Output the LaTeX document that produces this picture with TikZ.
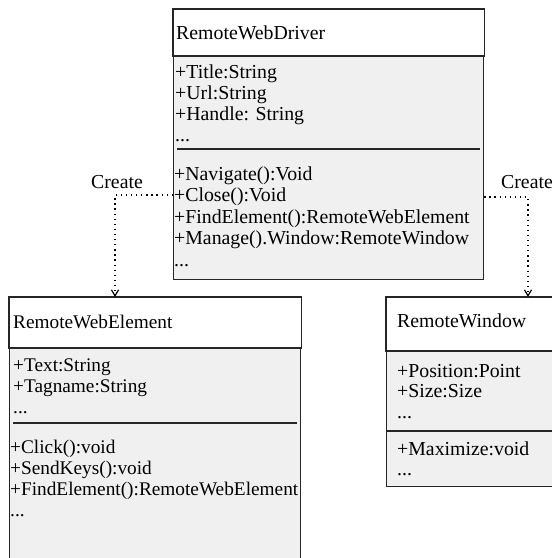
\documentclass[tikz,border=0pt]{standalone}
\usepackage{fontspec}
\setmainfont{Liberation Serif}
\usepackage{xcolor}
\usetikzlibrary{arrows.meta, calc, positioning}
\definecolor{bodygray}{RGB}{240,240,240}
\newcommand{\moredots}{...}

\begin{document}
\begin{tikzpicture}[x=1pt, y=-1pt, >={Straight Barb[length=6pt,width=7pt]},
    classbox/.style={draw=black!85, line width=1.2pt, fill=bodygray, rectangle, inner sep=0pt, anchor=north west},
    headbox/.style={draw=black!85, line width=1.2pt, fill=white},
    sepline/.style={draw=black!85, line width=1.4pt},
    member/.style={anchor=base west, inner sep=0pt, font=\fontsize{19.8}{21}\selectfont},
    small member/.style={member, font=\fontsize{19.3}{21}\selectfont},
    dep/.style={->, line width=1.2pt, dash pattern=on 1.3pt off 3.8pt}]
    \useasboundingbox (0,0) rectangle (552,558);
    \clip (0,0) rectangle (552,558);

    % the three classes
    \node[classbox, minimum width=310pt, minimum height=270pt] (driver) at (173,9) {};
    \node[classbox, minimum width=291pt, minimum height=275pt] (element) at (9,297) {};
    \node[classbox, minimum width=180pt, minimum height=189pt] (window) at (386,297) {};

    \filldraw[headbox] (driver.north west) rectangle ($(driver.north east)+(0,47)$);
    \filldraw[headbox] (element.north west) rectangle ($(element.north east)+(0,51)$);
    \filldraw[headbox] (window.north west) rectangle ($(window.north east)+(0,54)$);

    \draw[sepline] ($(driver.north west)+(4,140)$) -- ($(driver.north east)+(-4,140)$);
    \draw[sepline] ($(element.north west)+(4,126)$) -- ($(element.north east)+(-4,126)$);
    \draw[sepline] ($(window.north west)+(0,134)$) -- ($(window.north east)+(0,134)$);

    % RemoteWebDriver
    \node[member] (drvName) at (176,39.5) {RemoteWebDriver};
    \foreach \m [count=\i] in {{+Title:String}, {+Url:String}, {+Handle: String}, {\moredots}}
      \node[member] (drvA\i) at (175, 57+21*\i) {\m};
    \foreach \m [count=\i] in {{+Navigate():Void}, {+Close():Void}, {+FindElement():RemoteWebElement}, {+Manage().Window:RemoteWindow}, {\moredots}}
      \node[member] (drvM\i) at (174, 158.5+21.5*\i) {\m};

    % RemoteWebElement
    \node[small member] (elemName) at (13,328) {RemoteWebElement};
    \foreach \m [count=\i] in {{+Text:String}, {+Tagname:String}, {\moredots}}
      \node[small member] (elemA\i) at (13, 350+21*\i) {\m};
    \foreach \m [count=\i] in {{+Click():void}, {+SendKeys():void}, {+FindElement():RemoteWebElement}, {\moredots}}
      \node[small member] (elemM\i) at (10, 431.7+21.3*\i) {\m};

    % RemoteWindow
    \node[member] (winName) at (397,327) {RemoteWindow};
    \foreach \m [count=\i] in {{+Position:Point}, {+Size:Size}, {\moredots}}
      \node[member] (winA\i) at (397, 356.5+20.5*\i) {\m};
    \foreach \m [count=\i] in {{+Maximize:void}, {\moredots}}
      \node[member] (winM\i) at (397, 435+20*\i) {\m};

    % create dependencies
    \draw[dep] ($(driver.north west)+(0,186)$) -| ($(element.north west)+(106,0)$);
    \draw[dep] ($(driver.north east)+(0,188)$) -| ($(window.north west)+(142,0)$);
    \node[member, anchor=base] (createL) at (117,188) {Create};
    \node[member, anchor=base] (createR) at (527,188) {Create};

  \end{tikzpicture}
\end{document}
